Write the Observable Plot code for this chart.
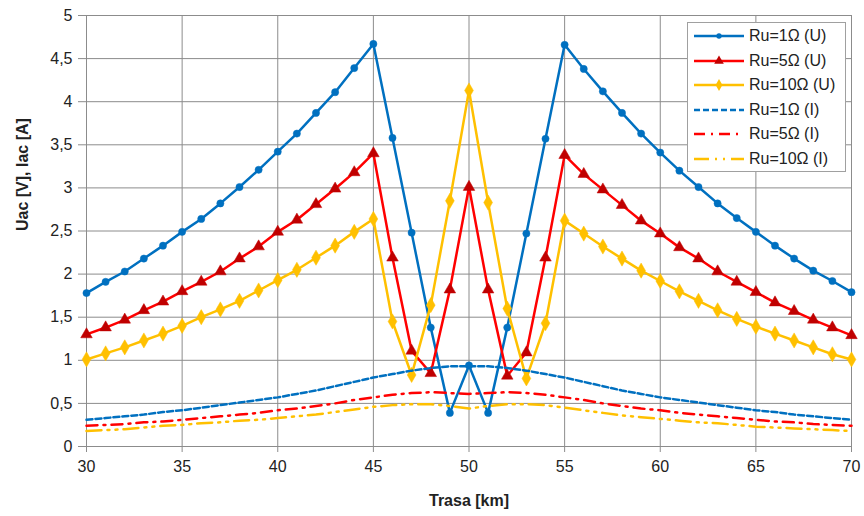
<!DOCTYPE html>
<html>
<head>
<meta charset="utf-8">
<script src="https://cdn.jsdelivr.net/npm/d3@7"></script>
<script src="https://cdn.jsdelivr.net/npm/@observablehq/plot@0.6"></script>
<style>
  html, body { margin: 0; padding: 0; background: #fff; }
  #wrap { position: relative; width: 864px; height: 516px; font-family: "Liberation Sans", Arial, sans-serif; }
  #legend { position: absolute; left: 687px; top: 22px; width: 159px; height: 150px; background: #fff; border: 1px solid #a0a0a0; box-sizing: border-box; }
  .row { position: absolute; left: 6px; height: 20px; display: flex; align-items: center; font-size: 16px; color: #222; white-space: nowrap; }
  .row svg { margin-right: 5px; }
</style>
</head>
<body>
<div id="wrap"><div id="chart"></div><div id="legend"></div></div>
<script>
const km = [30,31,32,33,34,35,36,37,38,39,40,41,42,43,44,45,46,47,48,49,50,51,52,53,54,55,56,57,58,59,60,61,62,63,64,65,66,67,68,69,70];

const u1 = [1.78,1.91,2.03,2.18,2.33,2.49,2.64,2.82,3.01,3.21,3.42,3.63,3.87,4.11,4.39,4.67,3.58,2.48,1.38,0.39,0.94,0.39,1.38,2.47,3.57,4.66,4.38,4.12,3.87,3.63,3.41,3.20,3.01,2.82,2.65,2.49,2.33,2.18,2.04,1.92,1.79];
const u5 = [1.30,1.38,1.47,1.58,1.68,1.80,1.91,2.03,2.18,2.32,2.49,2.63,2.81,2.99,3.18,3.40,2.19,1.11,0.85,1.82,3.01,1.82,0.82,1.09,2.19,3.38,3.16,2.98,2.80,2.62,2.47,2.31,2.18,2.03,1.91,1.79,1.67,1.57,1.47,1.38,1.29];
const u10 = [1.01,1.08,1.15,1.23,1.31,1.40,1.50,1.59,1.69,1.81,1.93,2.05,2.19,2.33,2.49,2.64,1.45,0.83,1.64,2.85,4.13,2.83,1.60,0.79,1.43,2.62,2.47,2.32,2.18,2.04,1.92,1.80,1.69,1.58,1.48,1.39,1.31,1.23,1.15,1.07,1.01];
const i1 = [0.31,0.33,0.35,0.37,0.40,0.42,0.45,0.48,0.51,0.54,0.57,0.61,0.65,0.70,0.75,0.80,0.84,0.88,0.91,0.93,0.93,0.93,0.91,0.88,0.84,0.80,0.75,0.70,0.65,0.61,0.57,0.54,0.51,0.48,0.45,0.42,0.40,0.37,0.35,0.33,0.31];
const i5 = [0.24,0.25,0.26,0.28,0.29,0.31,0.33,0.35,0.37,0.39,0.42,0.44,0.47,0.50,0.54,0.57,0.60,0.62,0.63,0.62,0.61,0.62,0.63,0.62,0.60,0.57,0.54,0.50,0.47,0.44,0.42,0.39,0.37,0.35,0.33,0.31,0.29,0.28,0.26,0.25,0.24];
const i10 = [0.18,0.19,0.20,0.22,0.24,0.25,0.27,0.28,0.30,0.31,0.33,0.35,0.37,0.40,0.43,0.46,0.48,0.49,0.49,0.47,0.44,0.47,0.49,0.49,0.48,0.45,0.42,0.39,0.36,0.34,0.32,0.30,0.28,0.27,0.25,0.23,0.22,0.21,0.20,0.19,0.18];

const xTicks = [30,35,40,45,50,55,60,65,70];
const yTicks = [0,0.5,1,1.5,2,2.5,3,3.5,4,4.5,5];
const seriesNames = ["Ru=1Ω (U)","Ru=5Ω (U)","Ru=10Ω (U)","Ru=1Ω (I)","Ru=5Ω (I)","Ru=10Ω (I)"];
const xTitle = "Trasa [km]";
const yTitle = "Uac [V], Iac [A]";

const BLUE = "#0070C0", RED = "#FF0000", DRED = "#C00000", YEL = "#FFC000";

const series = [
  {name: seriesNames[0], v: u1, stroke: BLUE, dash: null, symbol: "circle", fill: BLUE, r: 3.6},
  {name: seriesNames[1], v: u5, stroke: RED, dash: null, symbol: "triangle", fill: DRED, r: 4.3},
  {name: seriesNames[2], v: u10, stroke: YEL, dash: null, symbol: "diamond", fill: YEL, r: 4.6},
  {name: seriesNames[3], v: i1, stroke: BLUE, dash: "6,3", symbol: null},
  {name: seriesNames[4], v: i5, stroke: RED, dash: "11,6,2,6", symbol: null},
  {name: seriesNames[5], v: i10, stroke: YEL, dash: "15,6,2,6,2,6", symbol: null}
];

const fmt = d => String(d).replace(".", ",");

const marks = [
  Plot.gridX(xTicks, {stroke: "#8c8c8c", strokeOpacity: 1, strokeWidth: 1}),
  Plot.gridY(yTicks, {stroke: "#8c8c8c", strokeOpacity: 1, strokeWidth: 1}),
  Plot.axisX(xTicks, {tickSize: 6, tickPadding: 8, stroke: "#8c8c8c", fill: "#222", fontSize: 16, label: null, tickFormat: fmt}),
  Plot.axisY(yTicks, {tickSize: 8, tickPadding: 6, stroke: "#8c8c8c", fill: "#222", fontSize: 16, label: null, tickFormat: fmt}),
  Plot.text([xTitle], {frameAnchor: "bottom", dy: 59, fontWeight: "bold", fontSize: 16, fill: "#222"}),
  Plot.text([yTitle], {frameAnchor: "left", dx: -64, rotate: -90, fontWeight: "bold", fontSize: 16, fill: "#222"})
];

for (const s of series) {
  const data = km.map((k, i) => ({km: k, v: s.v[i]}));
  marks.push(Plot.line(data, {x: "km", y: "v", stroke: s.stroke, strokeWidth: 2.5, strokeDasharray: s.dash, strokeLinejoin: "round"}));
  if (s.symbol) {
    marks.push(Plot.dot(data, {x: "km", y: "v", symbol: s.symbol, fill: s.fill, stroke: s.fill, strokeWidth: 0.5, r: s.r}));
  }
}

const chart = Plot.plot({
  width: 864,
  height: 516,
  marginLeft: 86,
  marginRight: 13,
  marginTop: 15,
  marginBottom: 70,
  style: {fontFamily: "'Liberation Sans', Arial, sans-serif", background: "#fff"},
  x: {type: "linear", domain: [30, 70]},
  y: {type: "linear", domain: [0, 5]},
  marks
});
document.getElementById("chart").appendChild(chart);

// Legend
const legend = document.getElementById("legend");
const rowTops = [3, 28, 52, 77, 101, 126];
series.forEach((s, i) => {
  const row = document.createElement("div");
  row.className = "row";
  row.style.top = rowTops[i] + "px";
  const ns = "http://www.w3.org/2000/svg";
  const svg = document.createElementNS(ns, "svg");
  svg.setAttribute("width", 50);
  svg.setAttribute("height", 14);
  const line = document.createElementNS(ns, "line");
  line.setAttribute("x1", 0); line.setAttribute("x2", 50);
  line.setAttribute("y1", 7); line.setAttribute("y2", 7);
  line.setAttribute("stroke", s.stroke);
  line.setAttribute("stroke-width", 2.5);
  if (s.dash) line.setAttribute("stroke-dasharray", s.dash);
  svg.appendChild(line);
  if (s.symbol) {
    const sym = {circle: d3.symbolCircle, triangle: d3.symbolTriangle, diamond: d3.symbolDiamond}[s.symbol];
    const size = s.symbol === "circle" ? 22 : 40;
    const p = document.createElementNS(ns, "path");
    p.setAttribute("d", d3.symbol(sym, size)());
    p.setAttribute("transform", "translate(25,7)");
    p.setAttribute("fill", s.fill);
    svg.appendChild(p);
  }
  row.appendChild(svg);
  const t = document.createElement("span");
  t.textContent = s.name;
  row.appendChild(t);
  legend.appendChild(row);
});
</script>
</body>
</html>
